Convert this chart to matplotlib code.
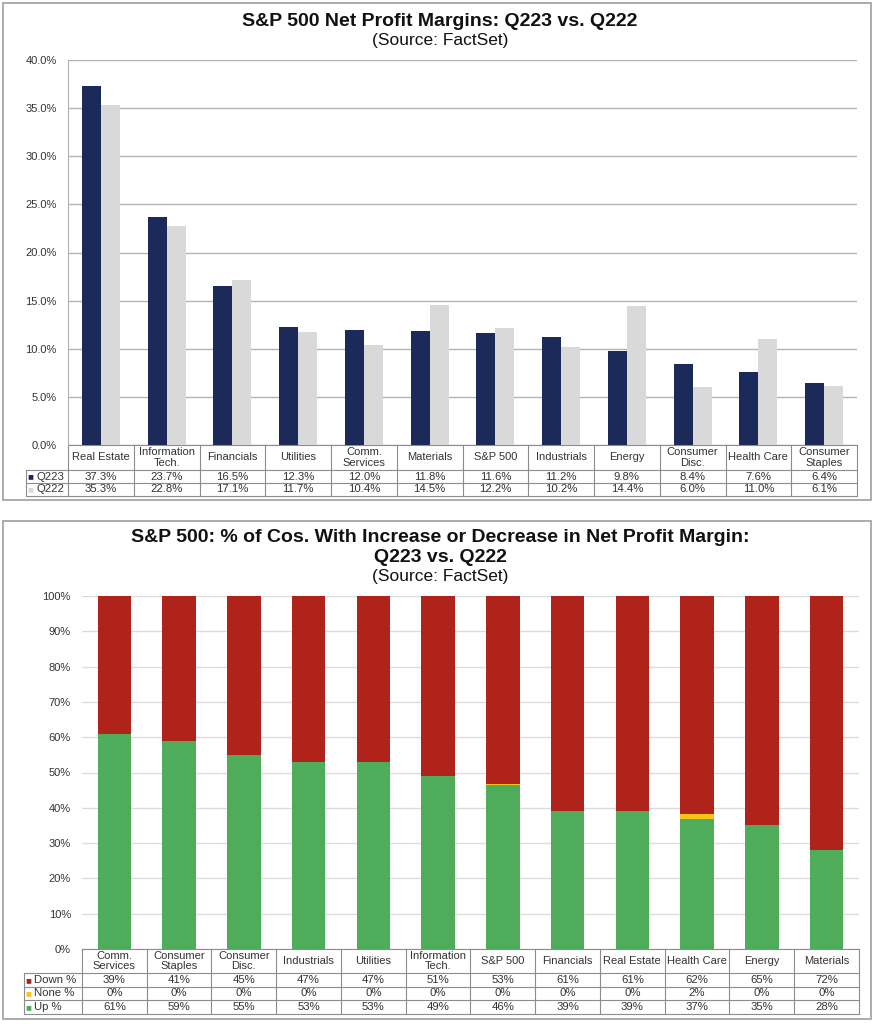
import matplotlib
matplotlib.use("Agg")
import matplotlib.pyplot as plt
import matplotlib.transforms as mtransforms
from matplotlib.patches import Rectangle

plt.rcParams['font.family'] = ['Liberation Sans', 'DejaVu Sans']

W, H = 878, 1024

# --- top chart: net profit margins
sectors_top = ["Real Estate", "Information\nTech.", "Financials", "Utilities", "Comm.\nServices",
               "Materials", "S&P 500", "Industrials", "Energy", "Consumer\nDisc.", "Health Care",
               "Consumer\nStaples"]
q223 = [37.3, 23.7, 16.5, 12.3, 12.0, 11.8, 11.6, 11.2, 9.8, 8.4, 7.6, 6.4]
q222 = [35.3, 22.8, 17.1, 11.7, 10.4, 14.5, 12.2, 10.2, 14.4, 6.0, 11.0, 6.1]
top_yticks = [0, 5, 10, 15, 20, 25, 30, 35, 40]

# --- bottom chart: % of companies up / flat / down
sectors_bot = ["Comm.\nServices", "Consumer\nStaples", "Consumer\nDisc.", "Industrials", "Utilities",
               "Information\nTech.", "S&P 500", "Financials", "Real Estate", "Health Care", "Energy",
               "Materials"]
down_pct = [39, 41, 45, 47, 47, 51, 53.2, 61, 61, 61.7, 65, 72]
none_pct = [0, 0, 0, 0, 0, 0, 0.4, 0, 0, 1.5, 0, 0]
up_pct = [61, 59, 55, 53, 53, 49, 46.4, 39, 39, 36.8, 35, 28]
bot_yticks = list(range(0, 101, 10))

NAVY = "#1c2a5a"
LGRAY = "#d9d9d9"
RED = "#b0231a"
YEL = "#f5c518"
GREEN = "#4eac5b"
TXT = "#333333"
LINE = "#8c8c8c"

fig = plt.figure(figsize=(W / 100, H / 100), dpi=100)


def px_axes(l, t, r, b):
    return fig.add_axes([l / W, 1 - b / H, (r - l) / W, (b - t) / H])


def panel(l, t, r, b):
    fig.patches.append(Rectangle((l / W, 1 - b / H), (r - l) / W, (b - t) / H,
                                 transform=fig.transFigure, fill=False,
                                 edgecolor="#a6a6a6", lw=1.3))


def draw_table(ax, labels, rows, names, colors, fmt, ax_h, head_px, row_px, lab_w):
    tr = mtransforms.blended_transform_factory(ax.transData, ax.transAxes)
    n = len(labels)
    x0 = -0.5 - lab_w
    ys = [0, -head_px / ax_h]
    for _ in rows:
        ys.append(ys[-1] - row_px / ax_h)
    kw = dict(transform=tr, color=LINE, lw=0.8, clip_on=False)
    ax.plot([-0.5, n - 0.5], [0, 0], **kw)
    for y in ys[1:]:
        ax.plot([x0, n - 0.5], [y, y], **kw)
    for i in range(n + 1):
        ax.plot([i - 0.5, i - 0.5], [0, ys[-1]], **kw)
    ax.plot([x0, x0], [ys[1], ys[-1]], **kw)
    for i, lab in enumerate(labels):
        ax.text(i, (ys[0] + ys[1]) / 2, lab, transform=tr, ha="center", va="center",
                fontsize=8, color=TXT, linespacing=1.1)
    for k, vals in enumerate(rows):
        yc = (ys[k + 1] + ys[k + 2]) / 2
        ax.text(x0 + 0.025, yc, "■", transform=tr, ha="left", va="center",
                fontsize=7, color=colors[k])
        ax.text(x0 + 0.025 + 0.13, yc, names[k], transform=tr, ha="left", va="center",
                fontsize=8.2, color=TXT)
        for i, v in enumerate(vals):
            ax.text(i, yc, fmt.format(v), transform=tr, ha="center", va="center",
                    fontsize=8.2, color=TXT)


# ---------------- top panel
panel(3, 3, 871, 500)
fig.text(440 / W, 1 - 21 / H, "S&P 500 Net Profit Margins: Q223 vs. Q222", ha="center",
         va="center", fontsize=14, fontweight="bold", color="#111111")
fig.text(440 / W, 1 - 40 / H, "(Source: FactSet)", ha="center", va="center",
         fontsize=12.5, color="#111111")

ax1 = px_axes(68, 60, 857, 445)
x = list(range(len(sectors_top)))
bw = 0.29
ax1.bar([i - bw / 2 for i in x], q223, width=bw, color=NAVY, zorder=3)
ax1.bar([i + bw / 2 for i in x], q222, width=bw, color=LGRAY, zorder=3)
ax1.set_xlim(-0.5, len(x) - 0.5)
ax1.set_ylim(0, 40)
ax1.set_yticks(top_yticks)
ax1.set_yticklabels([f"{v:.1f}%" for v in top_yticks])
ax1.set_xticks([])
ax1.yaxis.grid(True, color="#b3b3b3", lw=1.0, zorder=0)
ax1.tick_params(axis="y", length=0, pad=8, labelsize=8, labelcolor=TXT)
for s in ["top", "right", "bottom"]:
    ax1.spines[s].set_visible(False)
ax1.spines["left"].set_color("#b3b3b3")
draw_table(ax1, sectors_top, [q223, q222], ["Q223", "Q222"], [NAVY, LGRAY], "{:.1f}%",
           385, 25, 13, 42 / 65.75)

# ---------------- bottom panel
panel(3, 521, 871, 1019)
fig.text(440 / W, 1 - 538 / H, "S&P 500: % of Cos. With Increase or Decrease in Net Profit Margin:",
         ha="center", va="center", fontsize=14, fontweight="bold", color="#111111")
fig.text(440 / W, 1 - 557 / H, "Q223 vs. Q222", ha="center", va="center",
         fontsize=14, fontweight="bold", color="#111111")
fig.text(440 / W, 1 - 576 / H, "(Source: FactSet)", ha="center", va="center",
         fontsize=12.5, color="#111111")

ax2 = px_axes(82, 596, 859, 949)
x = list(range(len(sectors_bot)))
bw2 = 0.52
ax2.bar(x, up_pct, width=bw2, color=GREEN, zorder=3)
ax2.bar(x, none_pct, width=bw2, bottom=up_pct, color=YEL, zorder=3)
ax2.bar(x, down_pct, width=bw2, bottom=[u + m for u, m in zip(up_pct, none_pct)],
        color=RED, zorder=3)
ax2.set_xlim(-0.5, len(x) - 0.5)
ax2.set_ylim(0, 100)
ax2.set_yticks(bot_yticks)
ax2.set_yticklabels([f"{v}%" for v in bot_yticks])
ax2.set_xticks([])
ax2.yaxis.grid(True, color="#dcdcdc", lw=1.0, zorder=0)
ax2.tick_params(axis="y", length=0, pad=8, labelsize=8, labelcolor=TXT)
for s in ["top", "right", "bottom", "left"]:
    ax2.spines[s].set_visible(False)
draw_table(ax2, sectors_bot, [down_pct, none_pct, up_pct], ["Down %", "None %", "Up %"],
           [RED, YEL, GREEN], "{:.0f}%", 353, 24, 13.5, 58 / 64.75)

fig.savefig("out.png", dpi=100)
